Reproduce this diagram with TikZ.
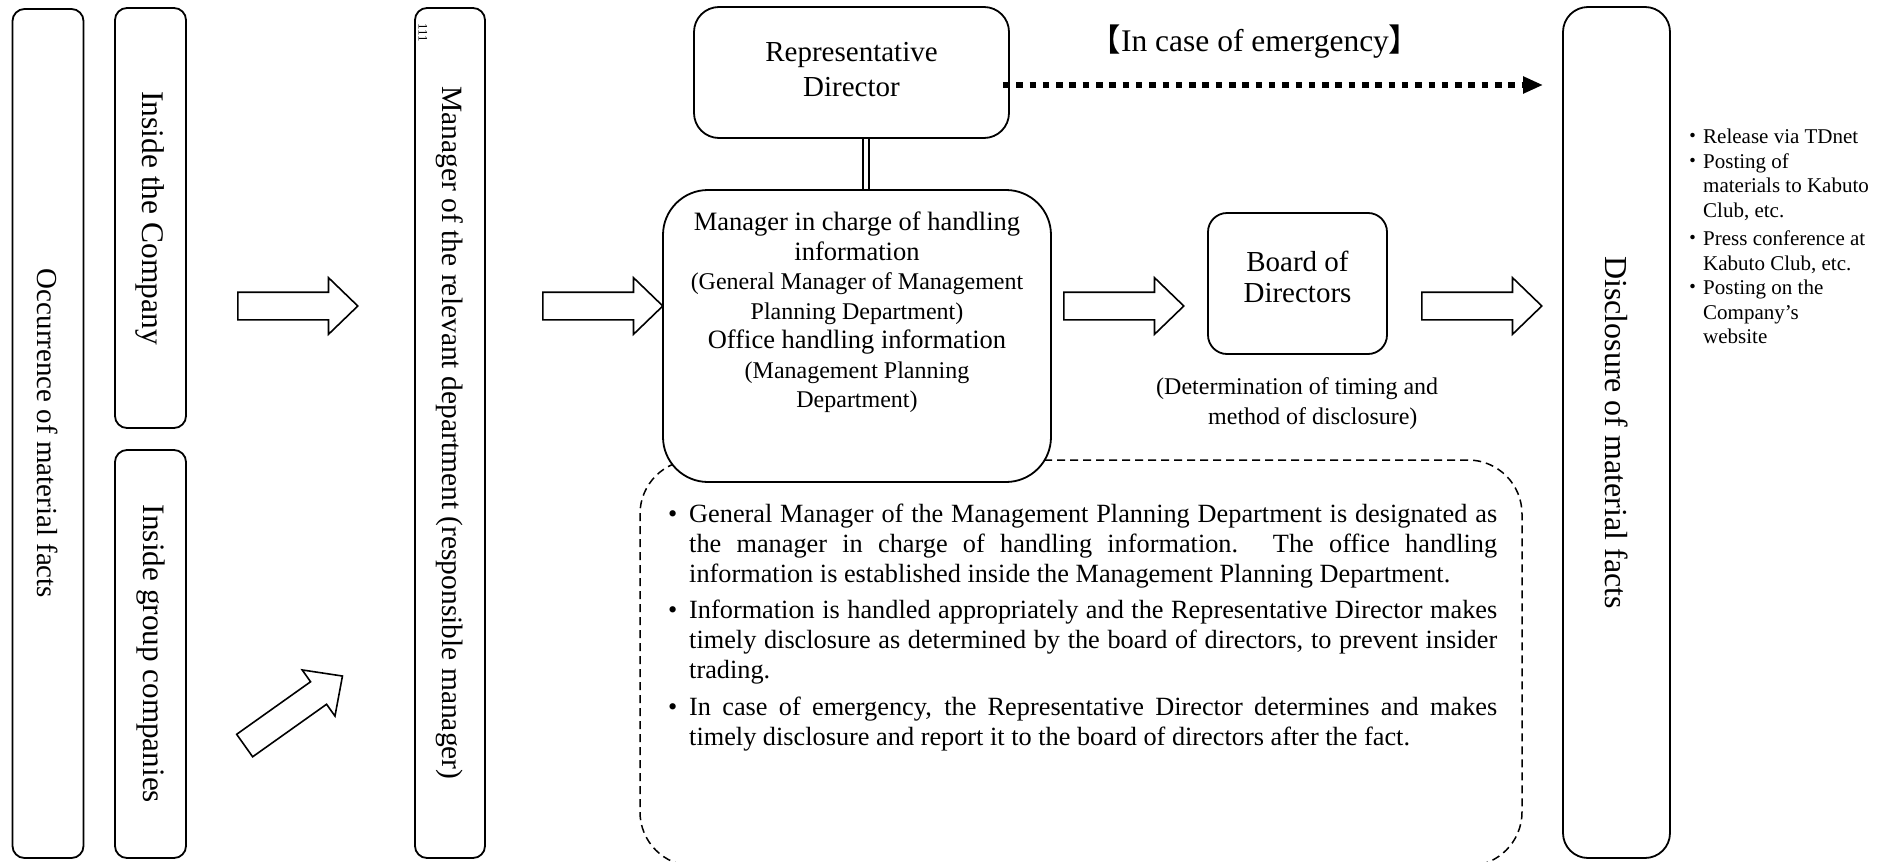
\documentclass[tikz,border=0pt]{standalone}
\usepackage{fontspec}
\setmainfont{Liberation Serif}
\newfontfamily\cjk{Noto Sans CJK JP}
\usetikzlibrary{arrows.meta, positioning, shapes.arrows, calc}
\newcommand{\szBig}{\fontsize{29}{35}\selectfont}
\newcommand{\szBoard}{\fontsize{29}{31}\selectfont}
\newcommand{\szMain}{\fontsize{26.5}{29.5}\selectfont}
\newcommand{\szSub}{\fontsize{24}{29.5}\selectfont}
\newcommand{\szNote}{\fontsize{26.3}{30}\selectfont}
\newcommand{\szList}{\fontsize{21}{24.5}\selectfont}
\newcommand{\szTag}{\fontsize{13}{14}\selectfont}
\newcommand{\notepoint}{\par\noindent\hangindent=21pt\hangafter=1\makebox[21pt][l]{\textbullet}}
\tikzset{
  box/.style     = {draw, rounded corners=#1, line width=1.8pt, fill=white,
                    inner sep=0pt, align=center},
  box/.default   = 12pt,
  vbox/.style    = {box, rotate=-90, font=\szBig},
  blk/.style     = {single arrow, draw, line width=1.6pt, fill=white,
                    inner sep=0pt, text height=13pt, text depth=13pt,
                    minimum height=120pt, single arrow head extend=14.5pt,
                    single arrow tip angle=88, anchor=tail},
  notebox/.style = {draw, rounded corners=54pt, line width=1.5pt,
                    dash pattern=on 8pt off 5pt},
  dbl/.style     = {double, double distance=4.5pt, line width=2.2pt},
  emer/.style    = {line width=6.5pt, dash pattern=on 6.5pt off 6.8pt,
                    -{Triangle[length=20pt, width=16pt]}},
  txt/.style     = {inner sep=0pt},
}
\begin{document}
\begin{tikzpicture}[x=1pt, y=-1pt]
\path[use as bounding box, fill=white] (0,0) rectangle (1883,862);

% ---- left columns (vertical text) ----
\node[vbox, minimum width=849pt, minimum height=71pt] (occ) at (48,433.5)
  {Occurrence of material facts};
\node[vbox, font=\fontsize{31.5}{35}\selectfont, minimum width=420pt, minimum height=71pt]
  (inco) at (150.5,218) {Inside the Company};
\node[vbox, font=\fontsize{31.2}{35}\selectfont, minimum width=408pt, minimum height=71pt]
  (grp) at (150.5,654) {Inside group companies};
\node[vbox, font=\fontsize{29.5}{35}\selectfont, minimum width=850pt, minimum height=70pt]
  (rel) at (450,433) {Manager of the relevant department (responsible manager)};
\node[txt, rotate=-90, font=\szTag] (tag) at (423,33) {111};

\node[blk] (aA) at (237,306) {};
\node[blk, rotate=35.4] (aB) at (244,746) {};
\node[blk] (aC) at (542,306) {};

% ---- notes (behind the manager box) ----
\node[notebox, minimum width=882pt, minimum height=406pt] (notes) at (1081,663) {};
\node[txt, anchor=north west, text width=829pt, align=justify, font=\szNote]
  (notetxt) at (668,485.5) {\tolerance=10000\hyphenpenalty=10000\parskip=6.5pt
  \notepoint General Manager of the Management Planning Department is designated as\linebreak
  the manager in charge of handling information.  The office handling\linebreak
  information is established inside the Management Planning Department.
  \notepoint Information is handled appropriately and the Representative Director makes\linebreak
  timely disclosure as determined by the board of directors, to prevent insider\linebreak
  trading.
  \notepoint In case of emergency, the Representative Director determines and makes\linebreak
  timely disclosure and report it to the board of directors after the fact.\par};

% ---- centre ----
\node[box=25pt, font=\szBig, minimum width=315pt, minimum height=131pt] (rep) at (851.5,72.5)
  {Representative\\Director\rule[-7pt]{0pt}{7pt}};
\node[box=45pt, minimum width=388pt, minimum height=292pt] (mgr) at (857,336) {};
\node[txt, align=center, font=\szMain, below=23pt of mgr.north] (mgrtxt)
  {Manager in charge of handling\\information\\
   {\szSub (General Manager of Management}\\{\szSub Planning Department)}\\
   Office handling information\\
   {\szSub (Management Planning}\\{\szSub Department)}};
\draw[dbl] ([xshift=14.5pt]rep.south) -- ([xshift=14.5pt]rep.south |- mgr.north);

\node[blk] (aD) at (1063,306) {};
\node[box=19pt, font=\szBoard, minimum width=179pt, minimum height=141pt] (board) at (1297.5,283.5)
  {Board of\\Directors\rule[-14pt]{0pt}{14pt}};
\node[txt, anchor=north west, align=left, font=\fontsize{24}{30}\selectfont] (boardnote) at (1156,377)
  {(Determination of timing and\\\hspace*{52pt}method of disclosure)};
\node[blk] (aE) at (1421,306) {};

% ---- right ----
\node[vbox, font=\fontsize{32}{35}\selectfont, rounded corners=25pt, minimum width=851pt,
  minimum height=107pt] (disc) at (1616.5,432.5) {Disclosure of material facts};
\node[txt, anchor=north west, align=left, font=\szList] (outlist) at (1682,129)
  {\makebox[21pt][l]{\cjk ・}Release via TDnet\\
   \makebox[21pt][l]{\cjk ・}Posting of\\
   \hspace*{21pt}materials to Kabuto\\
   \hspace*{21pt}Club, etc.\\[4pt]
   \makebox[21pt][l]{\cjk ・}Press conference at\\
   \hspace*{21pt}Kabuto Club, etc.\\
   \makebox[21pt][l]{\cjk ・}Posting on the\\
   \hspace*{21pt}Company’s\\
   \hspace*{21pt}website};

% emergency route (disc is turned, so its south side faces left)
\node[txt, font=\fontsize{31.5}{35}\selectfont] (emerg) at (1255,42)
  {{\cjk 【}In case of emergency{\cjk 】}};
\draw[emer, shorten <=-7pt, shorten >=19pt] ([yshift=-12.5pt]rep.east) -- ([yshift=-12.5pt]rep.east -| disc.south);

\end{tikzpicture}
\end{document}
